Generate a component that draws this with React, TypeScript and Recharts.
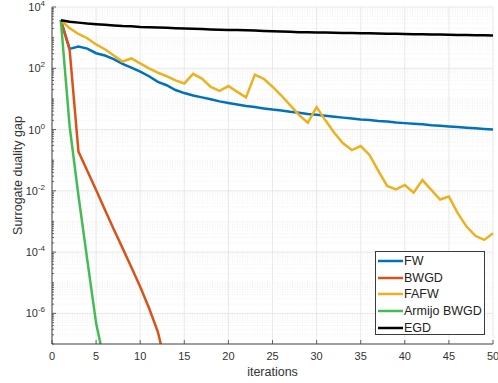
import React from "react";
import {
  LineChart,
  Line,
  XAxis,
  YAxis,
  CartesianGrid,
  ReferenceLine,
  Label,
} from "recharts";

// iteration index (x axis)
const iterations = [
  1, 2, 3, 4, 5, 6, 7, 8, 9, 10, 11, 12, 13, 14, 15, 16, 17, 18, 19, 20, 21, 22, 23, 24, 25,
  26, 27, 28, 29, 30, 31, 32, 33, 34, 35, 36, 37, 38, 39, 40, 41, 42, 43, 44, 45, 46, 47, 48,
  49, 50,
];

// surrogate duality gap per method
const fw = [
  3700, 430, 510, 440, 310, 260, 200, 138, 105, 78, 55, 36, 28, 19.5, 15.5, 12.9, 11.2, 9.8,
  8.3, 7.4, 6.6, 5.9, 5.4, 4.9, 4.5, 4.2, 3.8, 3.55, 3.24, 3.02, 2.82, 2.63, 2.45, 2.29, 2.14,
  2.04, 1.91, 1.82, 1.7, 1.62, 1.55, 1.48, 1.38, 1.32, 1.26, 1.2, 1.15, 1.1, 1.05, 1.0,
];
const bwgd = [
  3700, 400, 0.19, 0.045, 0.0107, 0.0024, 5.6e-4, 1.35e-4, 3.2e-5, 7.4e-6, 1.5e-6, 2.5e-7,
  1.6e-8,
];
const fafw = [
  3700, 2040, 1320, 955, 600, 417, 263, 166, 209, 145, 100, 72, 55, 40, 32, 66, 46, 24.5, 18.2,
  26.3, 17, 11.2, 62, 45, 25, 12.9, 6.3, 3.0, 1.66, 5.4, 2.0, 0.79, 0.355, 0.214, 0.29, 0.148,
  0.045, 0.0145, 0.0112, 0.0155, 0.0087, 0.0224, 0.0107, 0.0052, 0.0065, 0.00186, 6.8e-4,
  3.4e-4, 2.5e-4, 4.1e-4,
];
const armijoBwgd = [3700, 1.26, 0.0069, 5.6e-5, 4.8e-7, 2.1e-8];
const egd = [
  3700, 3300, 3090, 2880, 2750, 2630, 2510, 2400, 2340, 2240, 2190, 2140, 2090, 2040, 2000,
  1950, 1900, 1860, 1820, 1780, 1760, 1740, 1700, 1660, 1620, 1585, 1550, 1510, 1500, 1480,
  1460, 1445, 1430, 1410, 1395, 1380, 1365, 1350, 1335, 1320, 1300, 1290, 1275, 1260, 1245,
  1230, 1215, 1200, 1190, 1175,
];

const xTicks = [0, 5, 10, 15, 20, 25, 30, 35, 40, 45, 50];
const yMajor = [1e-6, 1e-4, 1e-2, 1, 1e2, 1e4];
const yExponents = [-7, -6, -5, -4, -3, -2, -1, 0, 1, 2, 3];
const minorMultipliers = [2, 3, 4, 5, 6, 7, 8, 9];

const series = [
  { key: "fw", name: "FW", color: "#0072BD", values: fw },
  { key: "bwgd", name: "BWGD", color: "#D95319", values: bwgd },
  { key: "fafw", name: "FAFW", color: "#EDB120", values: fafw },
  { key: "armijo", name: "Armijo BWGD", color: "#44BC55", values: armijoBwgd },
  { key: "egd", name: "EGD", color: "#000000", values: egd },
];

const data = iterations.map((it, i) => {
  const row: any = { it };
  series.forEach((s) => {
    if (i < s.values.length) row[s.key] = s.values[i];
  });
  return row;
});

// minor grid: 2..9 x 10^k plus the odd decades
const yMinor: number[] = [];
yExponents.forEach((e) => {
  if (e % 2 !== 0) yMinor.push(Math.pow(10, e));
  minorMultipliers.forEach((m) => yMinor.push(m * Math.pow(10, e)));
});
const yAllTicks = [...yMajor, ...yMinor].sort((a, b) => a - b);

const FONT = '"Liberation Sans", Arial, sans-serif';
const AXIS_COLOR = "#404040";
const TEXT_COLOR = "#333333";

function YTick(props: any) {
  const { x, y, payload } = props;
  const v = payload.value;
  const exp = Math.round(Math.log10(v));
  const isMajor = Math.abs(v - Math.pow(10, exp)) < 1e-9 * Math.pow(10, exp) && exp % 2 === 0;
  const ax = x + 7;
  return (
    <g>
      <line x1={ax} x2={ax + (isMajor ? 4 : 2)} y1={y} y2={y} stroke={AXIS_COLOR} strokeWidth={0.8} />
      {isMajor && (
        <text x={x} y={y + 4} textAnchor="end" fill={TEXT_COLOR} fontSize={11} fontFamily={FONT}>
          10
          <tspan dy={-5} fontSize={8}>
            {String(exp)}
          </tspan>
        </text>
      )}
    </g>
  );
}

function XTick(props: any) {
  const { x, y, payload } = props;
  const ay = y - 8;
  return (
    <g>
      <line x1={x} x2={x} y1={ay} y2={ay - 4} stroke={AXIS_COLOR} strokeWidth={0.8} />
      <text x={x} y={y} dy="0.71em" textAnchor="middle" fill={TEXT_COLOR} fontSize={11} fontFamily={FONT}>
        {payload.value}
      </text>
    </g>
  );
}

function YLabel(props: any) {
  const { viewBox } = props;
  const cx = viewBox.x + 18;
  const cy = viewBox.y + viewBox.height / 2;
  return (
    <text
      x={cx}
      y={cy}
      transform={`rotate(-90 ${cx} ${cy})`}
      textAnchor="middle"
      dominantBaseline="central"
      fill={TEXT_COLOR}
      fontSize={12.5}
      fontFamily={FONT}
    >
      Surrogate duality gap
    </text>
  );
}

function XLabel(props: any) {
  const { viewBox } = props;
  const cx = viewBox.x + viewBox.width / 2;
  return (
    <text x={cx} y={viewBox.y + 32} textAnchor="middle" fill={TEXT_COLOR} fontSize={12.5} fontFamily={FONT}>
      iterations
    </text>
  );
}

// legend rows sit at whole pixels so the sample lines all render alike
const legendRowTops = [1, 18, 34, 51, 68];

function LegendBox() {
  return (
    <div
      style={{
        position: "absolute",
        left: 375,
        top: 251,
        background: "#ffffff",
        border: "1px solid #3a3a3a",
        width: 110,
        height: 84,
        boxSizing: "border-box",
        fontFamily: FONT,
        fontSize: 12.5,
        color: "#222",
      }}
    >
      {series.map((s, i) => (
        <div
          key={s.key}
          style={{ position: "absolute", left: 0, top: legendRowTops[i], height: 16, display: "flex", alignItems: "center" }}
        >
          <svg width={28} height={16} style={{ display: "block" }}>
            <line x1={2} x2={27} y1={8} y2={8} stroke={s.color} strokeWidth={2.5} />
          </svg>
          <span style={{ lineHeight: "16px", whiteSpace: "nowrap" }}>{s.name}</span>
        </div>
      ))}
    </div>
  );
}

export default function App() {
  return (
    <div style={{ position: "absolute", left: 0, top: 0, width: 498, height: 383, background: "#fff" }}>
      <LineChart
        width={498}
        height={383}
        data={data}
        margin={{ top: 7, right: 5, left: 0, bottom: 0 }}
      >
        <CartesianGrid horizontal={false} stroke="#e4e4e4" strokeWidth={0.8} />
        {yMinor.map((v) => (
          <ReferenceLine
            key={"m" + v}
            y={v}
            stroke="#ececec"
            strokeDasharray="1 1.5"
            strokeWidth={0.8}
          />
        ))}
        {yMajor.map((v) => (
          <ReferenceLine key={"M" + v} y={v} stroke="#e2e2e2" strokeWidth={0.8} />
        ))}
        <XAxis
          dataKey="it"
          type="number"
          domain={[0, 50]}
          ticks={xTicks}
          interval={0}
          height={39}
          tickSize={6}
          tickMargin={2}
          tickLine={false}
          stroke={AXIS_COLOR}
          tick={<XTick />}
        >
          <Label content={<XLabel />} />
        </XAxis>
        <YAxis
          type="number"
          scale="log"
          domain={[1e-7, 1e4]}
          allowDataOverflow
          ticks={yAllTicks}
          interval={0}
          width={52}
          tickSize={5}
          tickMargin={2}
          tickLine={false}
          stroke={AXIS_COLOR}
          tick={<YTick />}
        >
          <Label content={<YLabel />} />
        </YAxis>
        {series.map((s) => (
          <Line
            key={s.key}
            dataKey={s.key}
            name={s.name}
            stroke={s.color}
            strokeWidth={2.5}
            dot={false}
            activeDot={false}
            isAnimationActive={false}
            type="linear"
          />
        ))}
      </LineChart>
      <LegendBox />
    </div>
  );
}
